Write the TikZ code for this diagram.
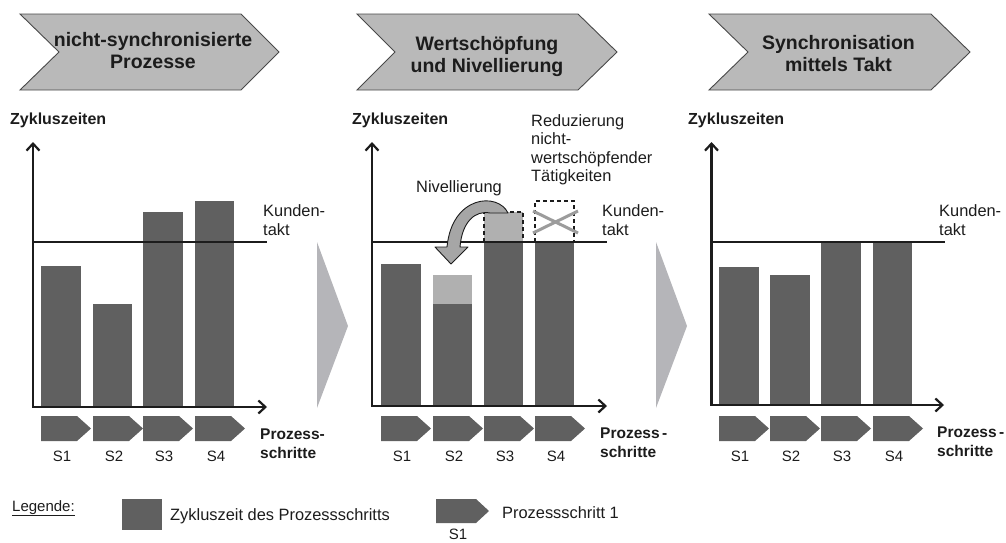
\documentclass[tikz,border=0pt]{standalone}
\usepackage{fontspec}
\setmainfont{Liberation Sans}
\usetikzlibrary{arrows.meta}
\definecolor{bar}{HTML}{606060}
\definecolor{lbar}{HTML}{B0B0B0}
\definecolor{hdrfill}{HTML}{B9B9B9}
\definecolor{trifill}{HTML}{B5B5B9}
\definecolor{ink}{HTML}{1C1C1C}
\definecolor{crossc}{HTML}{9C9C9C}
\definecolor{arrfill}{HTML}{A6A6A6}
\newcommand\stepchev[3]{%
  \fill[bar] (#2,416) -- ({#2+36},416) -- ({#2+50},428.5) -- ({#2+36},441) -- (#2,441) -- cycle;
  \node[slab] (#1) at ({#2+21},461) {#3};}
\tikzset{
  hdr/.style={fill=hdrfill, draw=ink!80, line width=0.9pt},
  htext/.style={font=\bfseries\fontsize{19.5}{22.5}\selectfont, align=center, inner sep=0pt, text=ink, anchor=north},
  ylab/.style={font=\bfseries\fontsize{16}{18.5}\selectfont, inner sep=0pt, text=ink, anchor=base west},
  txt/.style={font=\fontsize{16.4}{18.5}\selectfont, inner sep=0pt, text=ink, align=left},
  ptext/.style={font=\bfseries\fontsize{15.5}{19}\selectfont, inner sep=0pt, text=ink, align=left, anchor=north west},
  slab/.style={font=\fontsize{15}{17}\selectfont, inner sep=0pt, text=ink, anchor=base},
  axisline/.style={line width=2.2pt, draw=ink, {Straight Barb[length=7pt,width=13pt,line width=2.2pt]}-{Straight Barb[length=7pt,width=13pt,line width=2.2pt]}},
  taktline/.style={line width=1.1pt, draw=ink},
  dbox/.style={draw=ink, line width=1.2pt, dash pattern=on 4pt off 3pt},
  crossline/.style={draw=crossc, line width=3pt},
  tri/.style={fill=trifill}
}
\begin{document}
\begin{tikzpicture}[x=1pt,y=-1pt]
\useasboundingbox (0,0) rectangle (1006,542);

% ---------- headers ----------
\draw[hdr] (20,14) -- (241,14) -- (279,52) -- (241,90) -- (20,90) -- (59,52) -- cycle;
\node[htext] (h1) at (153,32) {nicht-synchronisierte\\Prozesse};
\draw[hdr] (357,14) -- (578,14) -- (617,52) -- (578,90) -- (357,90) -- (395,52) -- cycle;
\node[htext] (h2) at (487,36) {Wertschöpfung\\und Nivellierung};
\draw[hdr] (709,14) -- (931,14) -- (970,52) -- (931,90) -- (709,90) -- (748,52) -- cycle;
\node[htext] (h3) at (838.5,35) {Synchronisation\\mittels Takt};

% ---------- panel 1 ----------
\node[ylab] (z1) at (10,124) {Zykluszeiten};
\fill[bar] (41,407) rectangle (81,266);
\fill[bar] (93,407) rectangle (132,304);
\fill[bar] (143,407) rectangle (183,212);
\fill[bar] (195,407) rectangle (234,201);
\coordinate (t1a) at (33,242);
\coordinate (t1b) at (267,242);
\draw[taktline] (t1a) -- (t1b);
\coordinate (y1) at (33,142);
\coordinate (o1) at (33,407);
\coordinate (x1) at (267,407);
\draw[axisline] (y1) -- (o1) -- (x1);
\node[txt, anchor=north west] (k1) at (263,204.5) {Kunden-\\takt};
\stepchev{s11}{41}{S1}
\stepchev{s12}{93}{S2}
\stepchev{s13}{143}{S3}
\stepchev{s14}{195}{S4}
\node[ptext] (p1) at (260,428.5) {Prozess-\\schritte};

% transition triangle 1
\fill[tri] (317,242) -- (317,408) -- (348,326) -- cycle;

% ---------- panel 2 ----------
\node[ylab] (z2) at (352,124) {Zykluszeiten};
\fill[bar] (381,406) rectangle (421,264);
\fill[lbar] (433,304) rectangle (472,275);
\fill[bar] (433,406) rectangle (472,304);
\fill[bar] (484,406) rectangle (523,242);
\fill[bar] (535,406) rectangle (574,242);
\draw[dbox, fill=lbar] (484,242) rectangle (523,212);
\draw[dbox, fill=white] (535,242) rectangle (574,201);
\draw[crossline] (533,211) -- (578,233);
\draw[crossline] (533,233) -- (578,211);
\coordinate (t2a) at (372,242);
\coordinate (t2b) at (607,242);
\draw[taktline] (t2a) -- (t2b);
\coordinate (y2) at (372,142);
\coordinate (o2) at (372,406);
\coordinate (x2) at (607,406);
\draw[axisline] (y2) -- (o2) -- (x2);
% curved levelling arrow
\draw[fill=arrfill, draw=ink, line width=0.9pt, line join=round]
  (508,213) .. controls (498,192) and (452,195) .. (447,247)
  -- (435,247) -- (451,264) -- (468,247) -- (460,247)
  .. controls (462,222) and (475,210) .. (490,213) -- cycle;
\node[txt, anchor=base] (niv) at (459,192.5) {Nivellierung};
\node[txt, anchor=north west] (red) at (531,114) {Reduzierung\\nicht-\\wertschöpfender\\Tätigkeiten};
\node[txt, anchor=north west] (k2) at (602,204.5) {Kunden-\\takt};
\stepchev{s21}{381}{S1}
\stepchev{s22}{433}{S2}
\stepchev{s23}{484}{S3}
\stepchev{s24}{535}{S4}
\node[ptext] (p2) at (600,428) {Prozess\,-\\schritte};

% transition triangle 2
\fill[tri] (656,242) -- (656,408) -- (687,326) -- cycle;

% ---------- panel 3 ----------
\node[ylab] (z3) at (688,124) {Zykluszeiten};
\fill[bar] (719,405) rectangle (759,267);
\fill[bar] (770,405) rectangle (810,275);
\fill[bar] (821,405) rectangle (861,242);
\fill[bar] (873,405) rectangle (912,242);
\coordinate (t3a) at (711.5,242);
\coordinate (t3b) at (945,242);
\draw[taktline] (t3a) -- (t3b);
\coordinate (y3) at (711.5,142);
\coordinate (o3) at (711.5,405);
\coordinate (x3) at (944,405);
\draw[axisline] (y3) -- (o3) -- (x3);
\node[txt, anchor=north west] (k3) at (939,204.5) {Kunden-\\takt};
\stepchev{s31}{719}{S1}
\stepchev{s32}{770}{S2}
\stepchev{s33}{821}{S3}
\stepchev{s34}{873}{S4}
\node[ptext] (p3) at (937,427) {Prozess\,-\\schritte};

% ---------- legend ----------
\node[txt, anchor=base west, font=\fontsize{15}{18}\selectfont] (leg) at (12,511) {\underline{Legende:}};
\fill[bar] (122,499) rectangle (162,530);
\node[txt, anchor=base west] (l1) at (170,520.5) {Zykluszeit des Prozessschritts};
\fill[bar] (436,499) -- (476,499) -- (489,511) -- (476,523) -- (436,523) -- cycle;
\node[slab] (l2s) at (458,539.5) {S1};
\node[txt, anchor=base west] (l2) at (502,518.5) {Prozessschritt 1};
\end{tikzpicture}
\end{document}
